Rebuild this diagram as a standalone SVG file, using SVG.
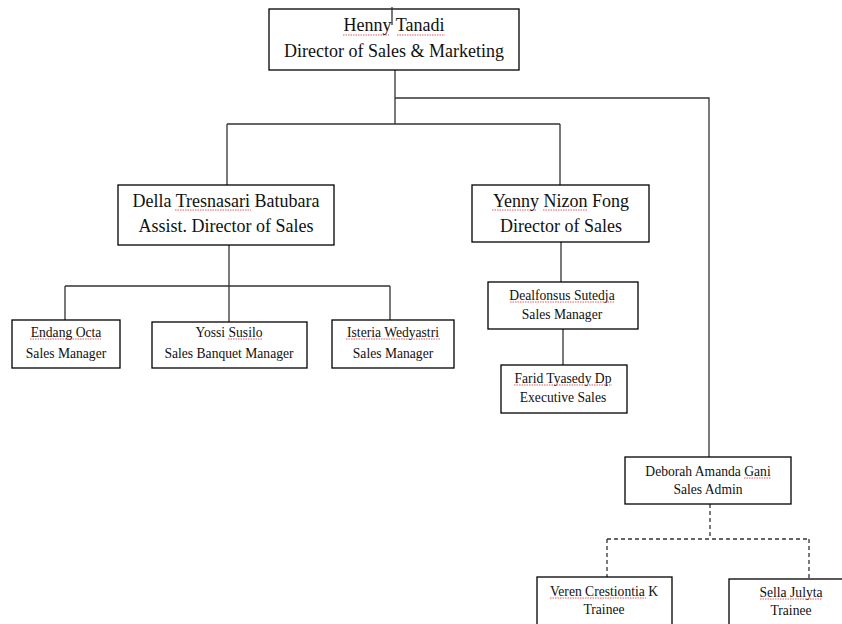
<svg xmlns="http://www.w3.org/2000/svg" width="842" height="624" viewBox="0 0 842 624">
<style>
.box{fill:#fff;stroke:#000;stroke-width:1.3}
.ln{fill:none;stroke:#333;stroke-width:1.3}
.dash{fill:none;stroke:#333;stroke-width:1.3;stroke-dasharray:4 3}
.sq{fill:none;stroke:#e03030;stroke-width:0.8;stroke-dasharray:1.5 1}
text{font-family:"Liberation Serif","Times New Roman",serif;fill:#111;text-anchor:middle}
.l{font-size:18px}
.s{font-size:13.6px}
</style>
<rect width="842" height="624" fill="#fff"/>
<g id="connectors">
<path class="ln" d="M395 70V124M395 98H709V457M227 124H560M227 124V185M560 124V185"/>
<path class="ln" d="M229 243V286M65 286H390M65 286V320M229 286V322M390 286V320"/>
<path class="ln" d="M561 242V282M563 329V365"/>
<path class="dash" d="M710 504V539M607 539H809M607 539V577M809 539V579"/>
</g>
<g id="henny">
<rect class="box" x="269" y="9" width="250" height="61"/>
<text class="l" x="394" y="31">Henny Tanadi</text>
<text class="l" x="394" y="57">Director of Sales &amp; Marketing</text>
<path class="sq" d="M343 35H389M397 35H445"/>
<path class="ln" d="M392 7V25"/>
</g>
<g id="della">
<rect class="box" x="118" y="185" width="216" height="60"/>
<text class="l" x="226" y="207">Della Tresnasari Batubara</text>
<text class="l" x="226" y="232">Assist. Director of Sales</text>
<path class="sq" d="M175 210H251"/>
</g>
<g id="yenny">
<rect class="box" x="472" y="185" width="177" height="57"/>
<text class="l" x="561" y="207">Yenny Nizon Fong</text>
<text class="l" x="561" y="232">Director of Sales</text>
<path class="sq" d="M492 210H537M543 210H587"/>
</g>
<g id="endang">
<rect class="box" x="12" y="320" width="108" height="48"/>
<text class="s" x="66" y="337">Endang Octa</text>
<text class="s" x="66" y="358">Sales Manager</text>
<path class="sq" d="M30 339H101"/>
</g>
<g id="yossi">
<rect class="box" x="152" y="322" width="155" height="46"/>
<text class="s" x="229" y="337">Yossi Susilo</text>
<text class="s" x="229" y="358">Sales Banquet Manager</text>
<path class="sq" d="M228 339H262"/>
</g>
<g id="isteria">
<rect class="box" x="332" y="320" width="122" height="48"/>
<text class="s" x="393" y="337">Isteria Wedyastri</text>
<text class="s" x="393" y="358">Sales Manager</text>
<path class="sq" d="M346 339H440"/>
</g>
<g id="dealfonsus">
<rect class="box" x="488" y="282" width="150" height="47"/>
<text class="s" x="562" y="300">Dealfonsus Sutedja</text>
<text class="s" x="562" y="319">Sales Manager</text>
<path class="sq" d="M510 302H614"/>
</g>
<g id="farid">
<rect class="box" x="501" y="365" width="126" height="48"/>
<text class="s" x="563" y="383">Farid Tyasedy Dp</text>
<text class="s" x="563" y="402">Executive Sales</text>
<path class="sq" d="M514 385H612"/>
</g>
<g id="deborah">
<rect class="box" x="625" y="457" width="166" height="47"/>
<text class="s" x="708" y="476">Deborah Amanda Gani</text>
<text class="s" x="708" y="494">Sales Admin</text>
<path class="sq" d="M744 478H771"/>
</g>
<g id="veren">
<rect class="box" x="537" y="577" width="135" height="60"/>
<text class="s" x="604" y="596">Veren Crestiontia K</text>
<text class="s" x="604" y="614">Trainee</text>
<path class="sq" d="M550 598H646"/>
</g>
<g id="sella">
<rect class="box" x="729" y="579" width="130" height="60"/>
<text class="s" x="791" y="597">Sella Julyta</text>
<text class="s" x="791" y="615">Trainee</text>
<path class="sq" d="M760 599H822"/>
</g>
</svg>
